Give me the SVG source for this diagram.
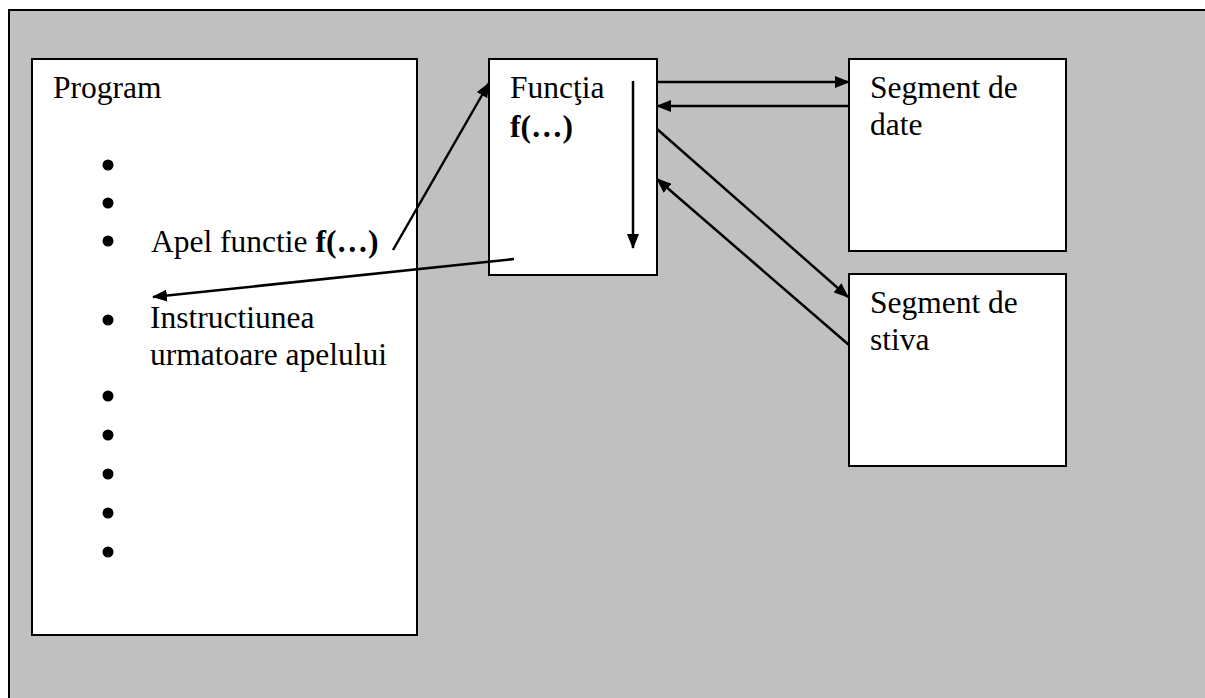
<svg xmlns="http://www.w3.org/2000/svg" width="1205" height="698" viewBox="0 0 1205 698">
<defs>
<marker id="ah" viewBox="0 0 15 12" refX="14" refY="6" markerWidth="15" markerHeight="12" markerUnits="userSpaceOnUse" orient="auto">
<path d="M0,0 L15,6 L0,12 z" fill="#000"/>
</marker>
<style>
.box{fill:#fff;stroke:#000;stroke-width:2}
.t{font-family:"Liberation Serif","Times New Roman","DejaVu Serif",serif;font-size:31.5px;fill:#000}
.b{font-weight:bold}
.c{stroke:#000;stroke-width:2.5;fill:none;marker-end:url(#ah)}
</style>
</defs>
<rect x="9" y="10" width="1230" height="720" fill="#c0c0c0" stroke="#000" stroke-width="2"/>
<g id="program">
<rect class="box" x="32" y="59" width="385" height="576"/>
<text class="t" x="53" y="98">Program</text>
<g fill="#000">
<circle cx="108" cy="165" r="5.5"/>
<circle cx="108" cy="203" r="5.5"/>
<circle cx="108" cy="241" r="5.5"/>
<circle cx="108" cy="320" r="5.5"/>
<circle cx="108" cy="396" r="5.5"/>
<circle cx="108" cy="435" r="5.5"/>
<circle cx="108" cy="474" r="5.5"/>
<circle cx="108" cy="513" r="5.5"/>
<circle cx="108" cy="552" r="5.5"/>
</g>
<text class="t" x="151" y="252">Apel functie <tspan class="b">f(…)</tspan></text>
<text class="t" x="150" y="328">Instructiunea</text>
<text class="t" x="150" y="365">urmatoare apelului</text>
</g>
<g id="functia">
<rect class="box" x="489" y="59" width="168" height="216"/>
<text class="t" x="510" y="98">Funcţia</text>
<text class="t b" x="510" y="137">f(…)</text>
</g>
<g id="seg-date">
<rect class="box" x="849" y="59" width="217" height="192"/>
<text class="t" x="870" y="98">Segment de</text>
<text class="t" x="870" y="135">date</text>
</g>
<g id="seg-stiva">
<rect class="box" x="849" y="274" width="217" height="192"/>
<text class="t" x="870" y="313">Segment de</text>
<text class="t" x="870" y="350">stiva</text>
</g>
<g id="connectors">
<line class="c" x1="393" y1="250" x2="489" y2="83"/>
<line class="c" x1="514" y1="259" x2="153" y2="297"/>
<line class="c" x1="633" y1="81" x2="633" y2="248"/>
<line class="c" x1="657" y1="82" x2="849" y2="82"/>
<line class="c" x1="849" y1="106" x2="657" y2="106"/>
<line class="c" x1="657" y1="129" x2="848" y2="297"/>
<line class="c" x1="849" y1="345" x2="657" y2="179"/>
</g>
</svg>
